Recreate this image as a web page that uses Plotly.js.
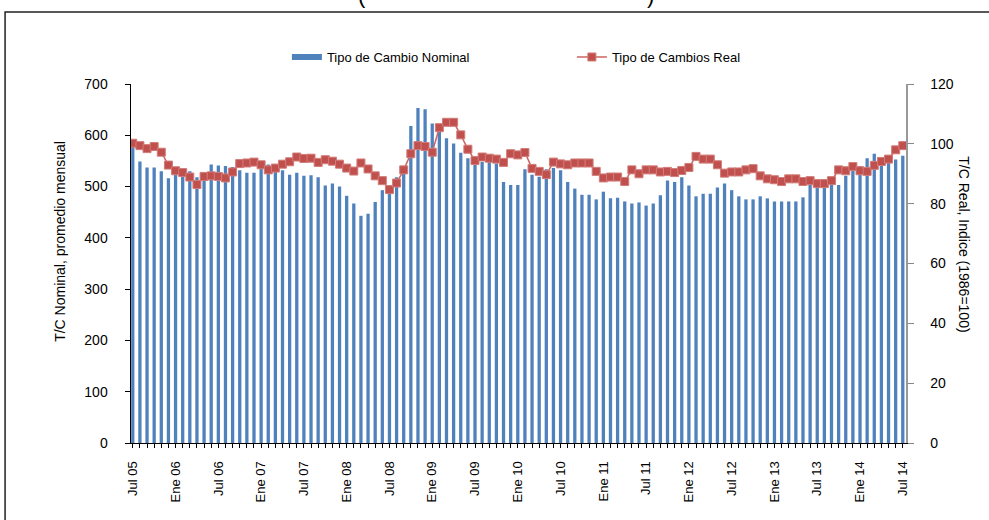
<!DOCTYPE html>
<html><head><meta charset="utf-8">
<script src="https://cdn.plot.ly/plotly-3.0.1.min.js"></script>
<style>html,body{margin:0;padding:0;background:#fff}#chart{width:989px;height:520px}</style>
</head><body><div id="chart"></div>
<script>
const months = [
 "Jul 05","Ago 05","Sep 05","Oct 05","Nov 05","Dic 05",
 "Ene 06","Feb 06","Mar 06","Abr 06","May 06","Jun 06","Jul 06","Ago 06","Sep 06","Oct 06","Nov 06","Dic 06",
 "Ene 07","Feb 07","Mar 07","Abr 07","May 07","Jun 07","Jul 07","Ago 07","Sep 07","Oct 07","Nov 07","Dic 07",
 "Ene 08","Feb 08","Mar 08","Abr 08","May 08","Jun 08","Jul 08","Ago 08","Sep 08","Oct 08","Nov 08","Dic 08",
 "Ene 09","Feb 09","Mar 09","Abr 09","May 09","Jun 09","Jul 09","Ago 09","Sep 09","Oct 09","Nov 09","Dic 09",
 "Ene 10","Feb 10","Mar 10","Abr 10","May 10","Jun 10","Jul 10","Ago 10","Sep 10","Oct 10","Nov 10","Dic 10",
 "Ene 11","Feb 11","Mar 11","Abr 11","May 11","Jun 11","Jul 11","Ago 11","Sep 11","Oct 11","Nov 11","Dic 11",
 "Ene 12","Feb 12","Mar 12","Abr 12","May 12","Jun 12","Jul 12","Ago 12","Sep 12","Oct 12","Nov 12","Dic 12",
 "Ene 13","Feb 13","Mar 13","Abr 13","May 13","Jun 13","Jul 13","Ago 13","Sep 13","Oct 13","Nov 13","Dic 13",
 "Ene 14","Feb 14","Mar 14","Abr 14","May 14","Jun 14","Jul 14"
];
const nominal = [
 579,549,537,537,530,516,
 525,522,530,518,513,543,541,540,538,532,527,527,
 537,543,536,532,523,527,521,522,518,502,506,500,
 482,467,443,447,470,493,503,518,526,618,653,651,
 623,608,594,584,566,555,542,548,551,545,509,503,
 503,534,523,519,534,536,532,509,496,484,484,475,
 490,477,478,471,467,469,463,467,483,512,509,518,
 502,481,486,486,498,506,493,481,475,475,481,477,
 471,471,471,471,479,505,503,514,505,503,521,531,
 540,555,564,545,549,553,560
];
const realIdx = [
 100.2,99.4,98.4,99.1,97.2,92.9,
 91.0,90.4,88.9,86.4,89.1,89.3,89.1,88.6,90.6,93.4,93.6,93.9,
 93.0,91.3,91.9,93.2,94.0,95.6,95.1,95.2,93.8,94.7,94.2,93.2,
 91.9,90.9,93.6,91.6,89.3,87.7,84.7,86.9,91.3,96.7,99.4,99.1,
 97.2,105.4,107.2,107.2,103.0,98.2,94.4,95.6,95.2,94.9,93.8,96.7,
 96.3,97.1,91.8,90.8,89.7,93.9,93.3,93.0,93.6,93.6,93.6,90.8,
 88.6,88.9,88.9,87.4,91.3,90.0,91.3,91.3,90.6,90.8,90.4,91.1,
 92.1,95.8,94.9,94.9,93.0,90.2,90.6,90.6,91.3,91.7,89.3,88.3,
 88.0,87.4,88.3,88.3,87.4,87.7,86.7,86.7,87.7,91.3,91.0,92.4,
 91.0,90.8,92.8,94.1,94.9,98.0,99.4
];
const seriesNames = ["Tipo de Cambio Nominal","Tipo de Cambios Real"];
const leftTitle = "T/C Nominal, promedio mensual";
const rightTitle = "T/C Real, Indice (1986=100)";
const leftTicks = [0,100,200,300,400,500,600,700];
const rightTicks = [0,20,40,60,80,100,120];

const idx = months.map((m,i)=>i);
const tickText = months.map((m,i)=> i%6===0 ? m : "");

const FONT = "Liberation Sans, Arial, sans-serif";
const L=131, R=906.5, T=84, B=443.5;
const W=R-L, H=B-T;
const px = x => (x-L)/W;
const py = y => (B-y)/H;

const BLUE = "#4F81BD";
const traces = [
 {type:"scatter", mode:"lines", x:[null], y:[null], name:seriesNames[0], legendgroup:"nom",
  xaxis:"x", yaxis:"y", line:{color:BLUE, width:6}, hoverinfo:"skip"},
 {type:"bar", x:idx, y:nominal, name:seriesNames[0], legendgroup:"nom", showlegend:false,
  xaxis:"x", yaxis:"y", width:0.46, marker:{color:BLUE, line:{width:0}}},
 {type:"scatter", mode:"lines+markers", x:idx, y:realIdx, name:seriesNames[1], xaxis:"x", yaxis:"y2",
  line:{color:"#cc6360", width:1.5},
  marker:{symbol:"square", size:8, color:"#c0504d", line:{color:"#d27c79", width:1}}}
];

const layout = {
 width:989, height:520,
 margin:{l:L, r:989-R, t:T, b:520-B, pad:0},
 paper_bgcolor:"#fff", plot_bgcolor:"#fff",
 font:{family:FONT, color:"#000", size:13},
 showlegend:true,
 legend:{orientation:"h", x:px(287), xanchor:"left", y:py(57), yanchor:"middle",
   font:{size:13, color:"#000", family:FONT}, entrywidth:240, entrywidthmode:"pixels",
   bgcolor:"rgba(0,0,0,0)", traceorder:"normal"},
 xaxis:{type:"linear", range:[-0.25,108.45], tickmode:"array", tickvals:idx, ticktext:tickText,
   ticks:"outside", ticklen:4, tickwidth:1, tickcolor:"#000", tickangle:-90,
   tickfont:{size:13, family:FONT, color:"#000"}, ticklabelstandoff:8,
   showline:true, linecolor:"#000", linewidth:1, showgrid:false, zeroline:false, fixedrange:true},
 xaxis2:{type:"linear", overlaying:"x", anchor:"y", side:"bottom", range:[-0.25,108.45],
   tickmode:"array", tickvals:idx, ticks:"inside", ticklen:4, tickwidth:1, tickcolor:"#000",
   showticklabels:false, showline:false, showgrid:false, zeroline:false},
 yaxis:{range:[0,700], tickmode:"array", tickvals:leftTicks, ticks:"outside", ticklen:5, tickwidth:1,
   tickcolor:"#000", tickfont:{size:14, family:FONT, color:"#000"}, ticklabelstandoff:14,
   showline:true, linecolor:"#000", linewidth:1.5, showgrid:false, zeroline:false},
 yaxis3:{range:[0,700], overlaying:"y", anchor:"x", side:"left", tickmode:"array", tickvals:leftTicks,
   ticks:"inside", ticklen:5, tickwidth:1, tickcolor:"#000", showticklabels:false,
   showline:false, showgrid:false, zeroline:false},
 yaxis2:{range:[0,120], overlaying:"y", anchor:"x", side:"right", tickmode:"array", tickvals:rightTicks,
   ticks:"outside", ticklen:6, tickwidth:1, tickcolor:"#888", tickfont:{size:14, family:FONT, color:"#000"},
   ticklabelstandoff:14, showline:true, linecolor:"#999", linewidth:1.5, showgrid:false, zeroline:false},
 annotations:[
  {text:leftTitle, textangle:-90, xref:"paper", yref:"paper", x:px(60), y:py(242),
   xanchor:"center", yanchor:"middle", showarrow:false, font:{size:14, family:FONT, color:"#000"}},
  {text:rightTitle, textangle:90, xref:"paper", yref:"paper", x:px(965), y:py(245),
   xanchor:"center", yanchor:"middle", showarrow:false, font:{size:14, family:FONT, color:"#000"}},
  {text:"(", xref:"paper", yref:"paper", x:px(362), y:py(10), xanchor:"center", yanchor:"bottom",
   showarrow:false, font:{size:22, family:FONT, color:"#000"}},
  {text:")", xref:"paper", yref:"paper", x:px(651), y:py(10), xanchor:"center", yanchor:"bottom",
   showarrow:false, font:{size:22, family:FONT, color:"#000"}}
 ],
 shapes:[
  {type:"rect", xref:"paper", yref:"paper", x0:px(5), x1:px(1000), y0:py(530), y1:py(12),
   line:{color:"#222", width:1.5}, fillcolor:"rgba(0,0,0,0)"}
 ]
};

Plotly.newPlot("chart", traces, layout, {displayModeBar:false, staticPlot:true});
</script>
</body></html>
